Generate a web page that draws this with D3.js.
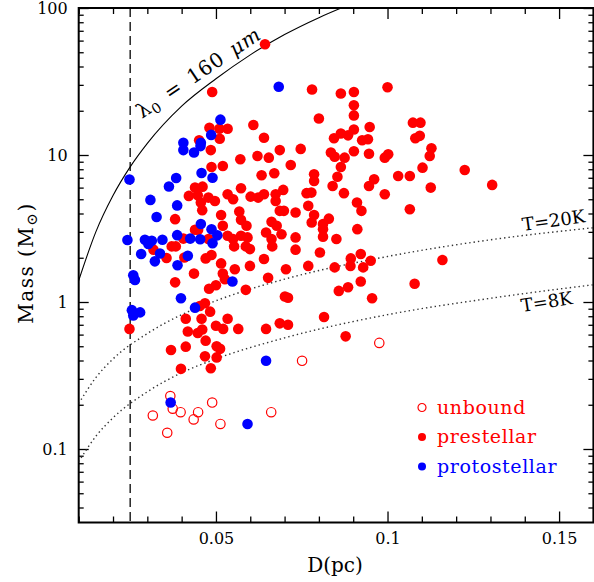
<!DOCTYPE html>
<html>
<head>
<meta charset="utf-8">
<script src="https://cdn.jsdelivr.net/npm/d3@7/dist/d3.min.js"></script>
<style>
  body { margin: 0; background: #fff; }
  svg { display: block; }
</style>
</head>
<body>
<script>
// --- data: D in pc, mass in Msun ---

const unboundD = [0.0367, 0.0374, 0.0397, 0.0316, 0.0358, 0.0435, 0.0448, 0.0489, 0.0513, 0.0661, 0.0751, 0.0976];
const unboundM = [0.229, 0.188, 0.178, 0.169, 0.129, 0.159, 0.178, 0.207, 0.148, 0.178, 0.398, 0.527];

const protoD = [0.0683, 0.0513, 0.0486, 0.0405, 0.0405, 0.0436, 0.0456, 0.0455, 0.0248, 0.0458,
  0.0490, 0.0384, 0.0363, 0.0309, 0.0387, 0.0327, 0.0456, 0.0487, 0.0387, 0.0504,
  0.0242, 0.0293, 0.0303, 0.0313, 0.0344, 0.0282, 0.0322, 0.0337, 0.0388, 0.0418,
  0.0425, 0.0454, 0.0490, 0.0259, 0.0264, 0.0548, 0.0398, 0.0439, 0.0255, 0.0259,
  0.0279, 0.0368, 0.0646, 0.0592];
const protoM = [29.1, 17.4, 13.7, 12.1, 10.8, 10.4, 12.1, 11.5, 6.82, 7.55,
  7.01, 6.98, 6.11, 4.95, 4.54, 3.79, 3.39, 3.12, 2.85, 2.84,
  2.64, 2.65, 2.48, 2.61, 2.65, 2.12, 1.89, 2.14, 1.78, 2.06,
  2.70, 2.67, 2.51, 1.52, 1.41, 1.38, 1.06, 0.915, 0.88, 0.81,
  0.85, 0.207, 0.398, 0.148];

const prestD = [
  0.0489, 0.0481, 0.0510, 0.0534, 0.0609, 0.0451, 0.0511, 0.0485, 0.0571, 0.0487,
  0.0520, 0.0439, 0.0461, 0.0421, 0.0447, 0.0478, 0.0497, 0.0534, 0.0550, 0.0573,
  0.0601, 0.0456, 0.0460, 0.0515, 0.0568, 0.0381, 0.0573, 0.0589, 0.0520, 0.0439,
  0.0780, 0.0864, 0.0902, 0.1000, 0.0902, 0.0902, 0.0800, 0.0948, 0.0902, 0.0864,
  0.0885, 0.0844, 0.0926, 0.0943, 0.0640, 0.0747, 0.0686, 0.0835, 0.0846, 0.0875,
  0.0902, 0.0946, 0.0992, 0.1002, 0.0621, 0.0654, 0.0718, 0.0864, 0.1031, 0.0633,
  0.0670, 0.0786, 0.0786, 0.0854, 0.0961, 0.0946, 0.0840, 0.0640, 0.0674, 0.0674,
  0.0696, 0.0764, 0.0778, 0.0873, 0.0992, 0.0623, 0.0769, 0.0732, 0.0686, 0.0698,
  0.0911, 0.0924, 0.0786, 0.0829, 0.0812, 0.0779, 0.0662, 0.0677,
  0.0646, 0.0691, 0.0662, 0.0664, 0.0732, 0.0732, 0.0812, 0.0812, 0.0851, 0.0912,
  0.0803, 0.0640, 0.0704, 0.0769, 0.0846, 0.0893, 0.0922, 0.0951, 0.0892, 0.0929,
  0.0652, 0.0922, 0.0885, 0.0858, 0.0955, 0.0701, 0.0710, 0.1079, 0.1160, 0.0815,
  0.0686, 0.0710, 0.0646, 0.0878,
  0.0448, 0.0534, 0.0550, 0.0573, 0.0592, 0.0478, 0.0405, 0.0371, 0.0383, 0.0318,
  0.0356, 0.0408, 0.0470, 0.0487, 0.0553, 0.0587, 0.0599, 0.0515, 0.0555, 0.0599,
  0.0436, 0.0520, 0.0526, 0.0381, 0.0500, 0.0480, 0.0587, 0.0468, 0.0453, 0.0483,
  0.0412, 0.0458, 0.0534, 0.0500, 0.0521, 0.0565, 0.0418, 0.0447, 0.0460, 0.0470,
  0.0248, 0.0369, 0.0412, 0.0502, 0.0512, 0.0468, 0.0502, 0.0398, 0.0485,
  0.1102, 0.1065, 0.1225, 0.1126, 0.1305, 0.1065,
  0.1074, 0.1096, 0.1081, 0.1094, 0.1128, 0.1123,
  0.0643];
const prestM = [
  26.8, 15.3, 15.1, 15.1, 16.0, 12.6, 12.9, 10.8, 9.35, 8.29,
  8.42, 6.00, 6.09, 5.27, 5.33, 5.13, 4.87, 5.41, 5.00, 5.94,
  5.21, 4.75, 4.21, 3.91, 4.12, 3.66, 3.62, 3.30, 3.30, 3.10,
  27.9, 26.2, 26.8, 28.9, 21.8, 18.6, 17.7, 15.5, 14.9, 14.0,
  13.6, 13.0, 12.6, 12.8, 13.1, 11.0, 10.8, 10.4, 9.74, 9.59,
  10.6, 10.2, 9.59, 10.1, 9.84, 9.59, 8.55, 8.29, 7.20, 7.28,
  7.51, 7.40, 6.66, 7.12, 6.84, 6.16, 6.16, 5.41, 5.41, 4.87,
  5.79, 5.50, 5.55, 5.50, 5.41, 5.13, 4.51, 4.06, 4.17, 4.17,
  4.75, 4.17, 3.90, 3.69, 3.39, 3.47, 3.51, 3.30,
  2.97, 2.89, 2.68, 2.39, 2.75, 2.27, 3.13, 2.78, 2.68, 3.13,
  2.17, 1.96, 1.67, 1.76, 1.72, 1.98, 2.12, 1.91, 1.76, 1.72,
  1.46, 1.38, 1.26, 1.19, 1.06, 1.09, 1.07, 1.33, 1.93, 0.79,
  0.716, 0.70, 0.656, 0.584,
  3.10, 2.82, 2.68, 2.82, 2.75, 2.68, 2.70, 2.39, 2.39, 2.27,
  1.99, 2.01, 1.98, 2.09, 2.39, 2.39, 2.29, 1.83, 1.67, 1.76,
  1.56, 1.56, 1.43, 1.36, 1.30, 1.23, 1.21, 0.98, 0.94, 0.86,
  0.77, 0.77, 0.77, 0.69, 0.656, 0.656, 0.63, 0.616, 0.65, 0.546,
  0.656, 0.472, 0.497, 0.50, 0.48, 0.427, 0.42, 0.351, 0.354,
  8.20, 7.20, 7.91, 6.00, 6.26, 4.28,
  16.6, 16.6, 13.0, 13.5, 11.1, 9.84,
  56.7];

// curves, sampled off the plot
const lambdaD = [0.0100, 0.0150, 0.0200, 0.0250, 0.0300, 0.0400, 0.0500, 0.0600, 0.0700, 0.0800, 0.0865];
const lambdaM = [1.4, 3.0, 5.3, 8.3, 12, 21.5, 33, 48, 66, 86, 100];
const tempD = [0.01, 0.015, 0.02, 0.03, 0.04, 0.05, 0.07, 0.1, 0.13, 0.16];
const t20M = [0.204, 0.306, 0.41, 0.61, 0.82, 1.02, 1.43, 2.04, 2.65, 3.2];
const t8M = [0.082, 0.122, 0.163, 0.245, 0.33, 0.41, 0.57, 0.82, 1.06, 1.31];
const dashD = 0.025;

const xMajor = [0.05, 0.1, 0.15];
const xMinor = [0.01, 0.02, 0.03, 0.04, 0.06, 0.07, 0.08, 0.09, 0.11, 0.12, 0.13, 0.14, 0.16];
const yMajor = [0.1, 1, 10, 100];
const yMinor = [0.04, 0.05, 0.06, 0.07, 0.08, 0.09, 0.2, 0.3, 0.4, 0.5, 0.6, 0.7, 0.8, 0.9,
  2, 3, 4, 5, 6, 7, 8, 9, 20, 30, 40, 50, 60, 70, 80, 90];

const legendLabels = ["unbound", "prestellar", "protostellar"];

// --- layout ---
const width = 594;
const height = 582;
const margin = {left: 78.7, right: 0.6, top: 8, bottom: 59.5};
const font = "'DejaVu Serif', serif";

const svg = d3.select("body")
  .append("svg")
  .attr("width", width)
  .attr("height", height);

const x = d3.scaleLinear()
  .domain([0.01, 0.16])
  .range([margin.left, width - margin.right]);

const y = d3.scaleLog()
  .domain([Math.pow(10, -1.5), 100])
  .range([height - margin.bottom, margin.top]);

const plotW = width - margin.right - margin.left;
const plotH = height - margin.bottom - margin.top;

svg.append("clipPath").attr("id", "clip")
  .append("rect")
  .attr("x", margin.left).attr("y", margin.top)
  .attr("width", plotW).attr("height", plotH);

// axes: ticks pointing inward on all four sides
function styleAxis(g) {
  g.select(".domain").remove();
  g.selectAll("line").attr("stroke", "#000").attr("stroke-width", 1.3);
  g.selectAll("text").attr("font-family", font).attr("font-size", 16).attr("fill", "#000");
}

svg.append("g")
  .attr("transform", `translate(0,${height - margin.bottom})`)
  .call(d3.axisBottom(x).tickValues(xMajor).tickSize(-11).tickPadding(10)
    .tickFormat(d => d === 0.1 ? "0.1" : d3.format(".2f")(d)))
  .call(styleAxis);
svg.append("g")
  .attr("transform", `translate(0,${height - margin.bottom})`)
  .call(d3.axisBottom(x).tickValues(xMinor).tickSize(-6).tickFormat(""))
  .call(styleAxis);
svg.append("g")
  .attr("transform", `translate(0,${margin.top})`)
  .call(d3.axisTop(x).tickValues(xMajor).tickSize(-11).tickFormat(""))
  .call(styleAxis);
svg.append("g")
  .attr("transform", `translate(0,${margin.top})`)
  .call(d3.axisTop(x).tickValues(xMinor).tickSize(-6).tickFormat(""))
  .call(styleAxis);

svg.append("g")
  .attr("transform", `translate(${margin.left},0)`)
  .call(d3.axisLeft(y).tickValues(yMajor).tickSize(-10).tickPadding(11)
    .tickFormat(d => String(d)))
  .call(styleAxis);
svg.append("g")
  .attr("transform", `translate(${margin.left},0)`)
  .call(d3.axisLeft(y).tickValues(yMinor).tickSize(-5).tickFormat(""))
  .call(styleAxis);
svg.append("g")
  .attr("transform", `translate(${width - margin.right},0)`)
  .call(d3.axisRight(y).tickValues(yMajor).tickSize(-10).tickFormat(""))
  .call(styleAxis);
svg.append("g")
  .attr("transform", `translate(${width - margin.right},0)`)
  .call(d3.axisRight(y).tickValues(yMinor).tickSize(-5).tickFormat(""))
  .call(styleAxis);

// frame
svg.append("rect")
  .attr("x", margin.left).attr("y", margin.top)
  .attr("width", plotW).attr("height", plotH)
  .attr("fill", "none").attr("stroke", "#000").attr("stroke-width", 2);

// model curves
const plot = svg.append("g").attr("clip-path", "url(#clip)");

const line = d3.line()
  .x(d => x(d[0]))
  .y(d => y(d[1]))
  .curve(d3.curveMonotoneX);

plot.append("path")
  .attr("d", line(d3.zip(lambdaD, lambdaM)))
  .attr("fill", "none").attr("stroke", "#000").attr("stroke-width", 1.1);

plot.append("path")
  .attr("d", line(d3.zip(tempD, t20M)))
  .attr("fill", "none").attr("stroke", "#333").attr("stroke-width", 1.4)
  .attr("stroke-dasharray", "1.4,3");

plot.append("path")
  .attr("d", line(d3.zip(tempD, t8M)))
  .attr("fill", "none").attr("stroke", "#333").attr("stroke-width", 1.4)
  .attr("stroke-dasharray", "1.4,3");

plot.append("line")
  .attr("x1", x(dashD)).attr("x2", x(dashD))
  .attr("y1", margin.top).attr("y2", height - margin.bottom)
  .attr("stroke", "#000").attr("stroke-width", 1.3)
  .attr("stroke-dasharray", "9,5");

// points
const r = 5.3;

plot.selectAll(".unbound")
  .data(d3.zip(unboundD, unboundM))
  .enter()
  .append("circle")
    .attr("class", "unbound")
    .attr("cx", d => x(d[0]))
    .attr("cy", d => y(d[1]))
    .attr("r", r - 0.6)
    .attr("fill", "none")
    .attr("stroke", "#ff0000")
    .attr("stroke-width", 1.2);

plot.selectAll(".prestellar")
  .data(d3.zip(prestD, prestM))
  .enter()
  .append("circle")
    .attr("class", "prestellar")
    .attr("cx", d => x(d[0]))
    .attr("cy", d => y(d[1]))
    .attr("r", r)
    .attr("fill", "#ff0000");

plot.selectAll(".protostellar")
  .data(d3.zip(protoD, protoM))
  .enter()
  .append("circle")
    .attr("class", "protostellar")
    .attr("cx", d => x(d[0]))
    .attr("cy", d => y(d[1]))
    .attr("r", r)
    .attr("fill", "#0000ff");

// curve labels
const lam = svg.append("text")
  .attr("transform", "translate(142,119) rotate(-34)")
  .attr("font-family", font).attr("font-size", 20)
  .attr("letter-spacing", 0.8).attr("word-spacing", 3);
lam.append("tspan").text("λ");
lam.append("tspan").attr("font-size", 14).attr("dy", 4).text("0");
lam.append("tspan").attr("dy", -4).text(" = 160 ");
lam.append("tspan").attr("font-style", "italic").text("μm");

svg.append("text")
  .attr("transform", "translate(523,231) rotate(-8)")
  .attr("font-family", font).attr("font-size", 18)
  .text("T=20K");

svg.append("text")
  .attr("transform", "translate(522,312) rotate(-9)")
  .attr("font-family", font).attr("font-size", 18)
  .text("T=8K");

// legend
const legendColors = ["#ff0000", "#ff0000", "#0000ff"];
const legend = svg.selectAll(".legend")
  .data(legendLabels)
  .enter()
  .append("g")
    .attr("class", "legend")
    .attr("transform", (d, i) => `translate(422,${407.5 + i * 29.5})`);

legend.append("circle")
  .attr("r", 4)
  .attr("fill", (d, i) => i === 0 ? "none" : legendColors[i])
  .attr("stroke", (d, i) => i === 0 ? legendColors[i] : "none")
  .attr("stroke-width", 1.2);

legend.append("text")
  .attr("x", 15).attr("y", 6)
  .attr("font-family", font).attr("font-size", 19)
  .attr("letter-spacing", 0.6)
  .attr("fill", (d, i) => legendColors[i])
  .text(d => d);

// axis titles
svg.append("text")
  .attr("x", 335).attr("y", 572)
  .attr("text-anchor", "middle")
  .attr("font-family", font).attr("font-size", 20)
  .text("D(pc)");

const ylab = svg.append("text")
  .attr("transform", "translate(33,263) rotate(-90)")
  .attr("text-anchor", "middle")
  .attr("font-family", font).attr("font-size", 20)
  .attr("letter-spacing", 1.5);
ylab.append("tspan").text("Mass  (M");
ylab.append("tspan").attr("font-size", 15).attr("dy", 4).text("⊙");
ylab.append("tspan").attr("dy", -4).text(")");
</script>
</body>
</html>
